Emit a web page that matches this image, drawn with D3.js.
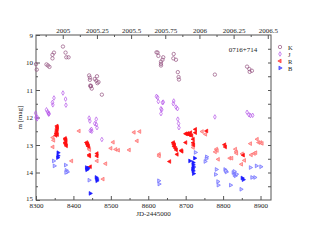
<!DOCTYPE html>
<html>
<head>
<meta charset="utf-8">
<script src="https://cdn.jsdelivr.net/npm/d3@7"></script>
<style>
  body { margin: 0; background: #fff; }
  text { font-family: "Liberation Serif", "DejaVu Serif", serif; }
</style>
</head>
<body>
<div id="chart"></div>
<script>
// K band (open circles)
const kData = [
  [8300,10.06],[8302,10.26],[8328,10.07],[8332,10.11],[8336,10.16],[8344,9.85],[8344,9.72],[8348,9.64],
  [8372,9.42],[8379,9.64],[8381,9.81],[8387,9.81],
  [8442,10.47],[8444,10.55],[8444,10.63],[8445,10.84],[8446,10.87],[8447,10.85],[8449,10.95],
  [8457,10.6],[8461,10.66],[8463,10.5],[8464,10.75],[8467,10.71],[8476,11.17],
  [8622,9.63],[8625,9.64],[8627,9.76],[8634,9.97],[8634,10.05],[8634,10.11],[8638,9.9],[8640,9.81],
  [8668,9.69],[8667,9.85],[8674,9.9],[8679,10.35],[8681,10.53],[8682,10.62],
  [8778,10.44],[8864,10.15],[8870,10.24],[8871,10.34],[8877,10.3]
];
// J band (open diamonds)
const jData = [
  [8299,11.84],[8303,11.98],[8300,12.0],[8303,12.05],[8328,11.72],[8331,11.79],[8333,11.84],[8335,11.86],
  [8334,11.88],[8344,11.45],[8345,11.54],[8348,11.29],[8372,11.11],[8379,11.33],[8380,11.55],
  [8442,12.02],[8444,12.13],[8448,12.43],[8445,12.48],[8449,12.5],[8457,12.22],[8461,12.25],[8463,12.37],
  [8461,12.06],[8476,12.8],
  [8622,11.23],[8625,11.27],[8627,11.42],[8638,11.46],[8640,11.44],[8634,11.68],[8636,11.72],[8634,11.86],
  [8668,11.4],[8667,11.5],[8674,11.62],[8678,11.68],[8679,12.06],[8681,12.22],[8682,12.37],
  [8778,11.98],[8864,11.81],[8869,11.9],[8873,11.93],[8879,11.92]
];
// R band, dense set (bright) and sparse set (light)
const rData = [
  [8356,12.31],[8357,12.36],[8356,12.42],[8356,12.47],[8355,12.53],[8354,12.59],[8353,12.65],[8357,12.62],
  [8378,12.76],[8379,12.8],[8380,12.83],[8379,12.9],[8380,12.97],[8381,13.03],[8378,12.93],
  [8435,12.91],[8437,12.95],[8438,12.98],[8439,13.02],[8440,13.05],[8442,13.36],[8443,13.4],[8445,13.79],
  [8463,13.31],[8463,13.4],[8657,13.6],
  [8667,12.91],[8668,12.96],[8670,13.0],[8669,13.05],[8673,13.12],[8675,13.18],[8677,13.34],
  [8688,13.2],[8690,13.23],[8700,12.91],
  [8700,12.59],[8703,12.6],[8706,12.58],[8709,12.62],[8711,12.63],[8713,12.55],[8716,12.66],
  [8720,12.79],[8720,12.92],[8721,13.0],[8726,12.55],[8726,12.43],[8756,12.49],[8804,12.99],[8806,13.07],[8854,13.37]
];
const rData2 = [
  [8345,12.73],[8347,12.83],[8345,13.07],[8395,13.58],[8415,12.49],[8442,13.12],[8443,13.17],[8463,13.58],
  [8486,13.68],[8479,14.24],[8506,12.9],[8500,13.12],[8513,13.16],[8520,13.19],[8549,13.18],[8562,12.54],
  [8577,12.51],[8570,12.85],[8629,13.34],[8629,13.4],[8720,13.09],[8744,12.51],[8753,12.61],
  [8782,13.15],[8784,13.2],[8779,13.25],[8787,13.52],[8818,13.48],[8823,13.48],[8833,13.15],[8835,13.25],
  [8836,13.3],[8851,13.32],[8849,13.7],[8857,13.56],[8873,12.95],[8875,13.36],[8883,13.31],[8887,13.28],
  [8891,12.79],[8895,12.91],[8900,12.91],[8904,12.94]
];
// B band, dense set (bright) and sparse set (light)
const bData = [
  [8359,13.28],[8359,13.39],[8358,13.46],[8435,13.82],[8437,13.88],[8439,13.84],[8436,13.9],[8445,14.76],
  [8461,14.18],[8463,14.3],[8463,14.24],[8711,13.58],[8720,13.64],[8720,13.72],[8721,13.8],[8719,13.87],
  [8720,13.94],[8721,14.04],[8724,13.48],[8851,14.2],[8854,14.26]
];
const bData2 = [
  [8347,13.58],[8349,13.76],[8379,13.73],[8381,13.92],[8384,13.98],[8380,14.0],[8442,14.28],[8628,14.3],
  [8629,14.42],[8726,13.27],[8756,13.43],[8755,13.5],[8752,13.6],[8782,13.89],[8780,14.07],[8786,14.33],
  [8787,14.46],[8805,13.89],[8809,13.98],[8807,13.94],[8820,14.46],[8827,14.0],[8830,14.08],[8833,14.12],
  [8830,13.96],[8836,14.06],[8848,14.61],[8873,13.82],[8889,13.76],[8901,13.79],[8877,14.18],[8885,14.18]
];

const bandNames = ['K', 'J', 'R', 'B'];
const bottomTicks = [8300, 8400, 8500, 8600, 8700, 8800, 8900];
const leftTicks = [9, 10, 11, 12, 13, 14, 15];
const yearTicks = [2005, 2005.25, 2005.5, 2005.75, 2006, 2006.25, 2006.5];

const W = 314, H = 243;
const pLeft = 36, pRight = 271, pTop = 35, pBottom = 200;
const fontSize = 7;

const svg = d3.select('#chart').append('svg')
  .attr('width', W).attr('height', H);

const x = d3.scaleLinear().domain([8300, 8928]).range([pLeft, pRight]);
const y = d3.scaleLinear().domain([9, 15]).range([pTop, pBottom]);
// JD-2445000 of 2005.0 is 8371.5
const toYear = (jd) => 2005 + (jd - 8371.5) / 365.25;
const xYear = d3.scaleLinear().domain(x.domain().map(toYear)).range([pLeft, pRight]);

const axisColor = '#555';

// axes (ticks pointing inward)
const gB = svg.append('g').attr('transform', `translate(0,${pBottom})`)
  .call(d3.axisBottom(x).tickValues(bottomTicks).tickFormat(d3.format('d')).tickSizeInner(-4).tickSizeOuter(0).tickPadding(3));
const gBm = svg.append('g').attr('transform', `translate(0,${pBottom})`)
  .call(d3.axisBottom(x).tickValues(d3.range(8350, 8928, 100)).tickFormat('').tickSizeInner(-2).tickSizeOuter(0));
const gL = svg.append('g').attr('transform', `translate(${pLeft},0)`)
  .call(d3.axisLeft(y).tickValues(leftTicks).tickFormat(d3.format('d')).tickSizeInner(-4).tickSizeOuter(0).tickPadding(3));
const gLm = svg.append('g').attr('transform', `translate(${pLeft},0)`)
  .call(d3.axisLeft(y).tickValues(d3.range(9.5, 15, 1)).tickFormat('').tickSizeInner(-2).tickSizeOuter(0));
const gR = svg.append('g').attr('transform', `translate(${pRight},0)`)
  .call(d3.axisRight(y).tickValues(d3.range(9.5, 15, 0.5)).tickFormat('').tickSizeInner(-3).tickSizeOuter(0));
const gT = svg.append('g').attr('transform', `translate(0,${pTop})`)
  .call(d3.axisTop(xYear).tickValues(yearTicks).tickFormat((d) => String(d)).tickSizeInner(-4).tickSizeOuter(0).tickPadding(2));
const gTm = svg.append('g').attr('transform', `translate(0,${pTop})`)
  .call(d3.axisTop(xYear).tickValues(d3.range(2004.875, 2006.55, 0.25)).tickFormat('').tickSizeInner(-2).tickSizeOuter(0));

[gB, gBm, gL, gLm, gR, gT, gTm].forEach((g) => {
  g.select('.domain').remove();
  g.attr('font-size', fontSize).attr('font-family', '"Liberation Serif", serif');
  g.selectAll('line').attr('stroke', axisColor);
  g.selectAll('text').attr('fill', '#222');
});
// lift the lowest left label a touch so it clears the x labels
gL.selectAll('.tick').filter((d) => d === 15).select('text').attr('dy', '0.1em');

svg.append('rect')
  .attr('x', pLeft).attr('y', pTop)
  .attr('width', pRight - pLeft).attr('height', pBottom - pTop)
  .attr('fill', 'none').attr('stroke', axisColor).attr('stroke-width', 1);

// axis titles
svg.append('text')
  .attr('x', (pLeft + pRight) / 2).attr('y', 216)
  .attr('text-anchor', 'middle').attr('font-size', fontSize).attr('fill', '#222')
  .text('JD-2445000');
svg.append('text')
  .attr('transform', `translate(22,${(pTop + pBottom) / 2}) rotate(-90)`)
  .attr('text-anchor', 'middle').attr('font-size', fontSize).attr('fill', '#222')
  .text('m [mag]');
svg.append('text')
  .attr('x', 243).attr('y', 51.5)
  .attr('text-anchor', 'middle').attr('font-size', fontSize).attr('fill', '#222')
  .text('0716+714');

// marker styles
const styles = {
  K: { type: d3.symbolCircle, size: 9, rot: 0, fill: 'none', stroke: '#94527f' },
  J: { type: d3.symbolDiamond, size: 6, rot: 0, fill: 'none', stroke: '#b456e8' },
  R: { type: d3.symbolTriangle, size: 6, rot: -90, fill: '#ff1010', stroke: '#ff1010' },
  R2: { type: d3.symbolTriangle, size: 6, rot: -90, fill: '#ffb0b0', stroke: '#ff6a6a' },
  B: { type: d3.symbolTriangle, size: 6, rot: 90, fill: '#1a1aff', stroke: '#1a1aff' },
  B2: { type: d3.symbolTriangle, size: 6, rot: 90, fill: '#c8c8ff', stroke: '#6a6aff' }
};

function drawSeries(data, st) {
  const sym = d3.symbol().type(st.type).size(st.size);
  svg.append('g').selectAll('path')
    .data(data)
    .enter()
    .append('path')
    .attr('d', sym)
    .attr('transform', (d) => `translate(${x(d[0])},${y(d[1])}) rotate(${st.rot})`)
    .attr('fill', st.fill)
    .attr('stroke', st.stroke)
    .attr('stroke-width', 0.7);
}

drawSeries(kData, styles.K);
drawSeries(jData, styles.J);
drawSeries(rData2, styles.R2);
drawSeries(rData, styles.R);
drawSeries(bData2, styles.B2);
drawSeries(bData, styles.B);

// legend
const legendStyles = [styles.K, styles.J, { ...styles.R, fill: '#ff6a6a', stroke: '#ff3030' }, { ...styles.B, fill: '#7070ff', stroke: '#4040ff' }];
const lg = svg.append('g');
bandNames.forEach((name, i) => {
  const st = legendStyles[i];
  const yy = 47 + i * 7;
  lg.append('path')
    .attr('d', d3.symbol().type(st.type).size(st.size)())
    .attr('transform', `translate(280,${yy}) rotate(${st.rot})`)
    .attr('fill', st.fill).attr('stroke', st.stroke).attr('stroke-width', 0.7);
  lg.append('text')
    .attr('x', 288).attr('y', yy + 2.5)
    .attr('font-size', 6.5).attr('fill', '#222')
    .text(name);
});
</script>
</body>
</html>
